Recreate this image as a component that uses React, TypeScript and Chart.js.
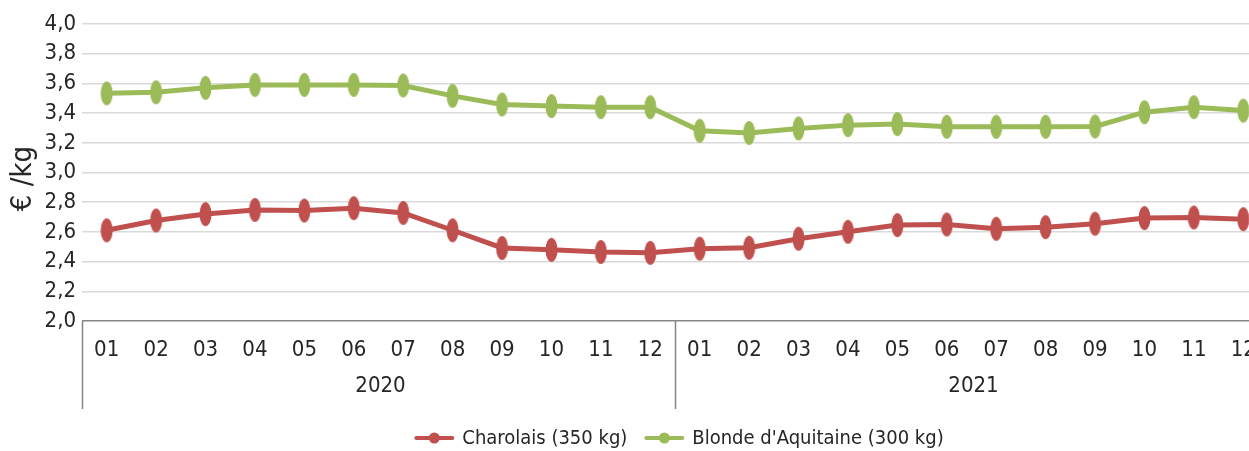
import React, { useEffect, useRef } from "react";
import { Chart, registerables } from "chart.js";

Chart.register(...registerables);

const months = ["01","02","03","04","05","06","07","08","09","10","11","12","01","02","03","04","05","06","07","08","09","10","11","12"];
const years = ["2020", "2021"];
const charolais = [2.611, 2.677, 2.72, 2.748, 2.744, 2.76, 2.728, 2.611, 2.492, 2.479, 2.465, 2.459, 2.487, 2.493, 2.554, 2.601, 2.646, 2.65, 2.621, 2.632, 2.655, 2.693, 2.697, 2.686];
const blonde = [3.533, 3.54, 3.57, 3.59, 3.59, 3.59, 3.586, 3.516, 3.458, 3.447, 3.44, 3.44, 3.281, 3.266, 3.297, 3.319, 3.326, 3.308, 3.308, 3.308, 3.31, 3.406, 3.44, 3.417];
const seriesNames = ["Charolais (350 kg)", "Blonde d'Aquitaine (300 kg)"];
const colors = ["#C0504D", "#9BBB59"];
const yTitle = "€ /kg";

const FONT = '"DejaVu Sans Condensed", "Liberation Sans Narrow", sans-serif';
const TEXT = "#262626";

function ellipseMarker(color: string) {
  const c = document.createElement("canvas");
  c.width = 13;
  c.height = 26;
  const ctx = c.getContext("2d")!;
  ctx.fillStyle = color;
  ctx.beginPath();
  ctx.ellipse(6.5, 13, 6, 12, 0, 0, Math.PI * 2);
  ctx.fill();
  return c;
}

const decorPlugin = {
  id: "decorPlugin",
  afterDraw(chart: any) {
    const { ctx, chartArea, scales } = chart;
    const x = scales.x;
    const step = x.getPixelForValue(1) - x.getPixelForValue(0);
    const bottom = chartArea.bottom + 88;
    ctx.save();
    // category group separators
    ctx.strokeStyle = "#868686";
    ctx.lineWidth = 1.5;
    [0, 12, 24].forEach((i) => {
      const px = Math.round(x.getPixelForValue(0) - step / 2 + i * step) + 0.5;
      ctx.beginPath();
      ctx.moveTo(px, chartArea.bottom);
      ctx.lineTo(px, bottom);
      ctx.stroke();
    });
    // year labels
    ctx.fillStyle = TEXT;
    ctx.font = `22px ${FONT}`;
    ctx.textAlign = "center";
    ctx.textBaseline = "middle";
    years.forEach((yr, k) => {
      const a = x.getPixelForValue(k * 12) - step / 2;
      const b = x.getPixelForValue(k * 12 + 11) + step / 2;
      ctx.fillText(yr, (a + b) / 2 + 2, chartArea.bottom + 65);
    });
    // y title
    ctx.save();
    ctx.translate(23, (chartArea.top + chartArea.bottom) / 2 + 6);
    ctx.rotate(-Math.PI / 2);
    ctx.font = `29px ${FONT}`;
    ctx.fillText(yTitle, 0, 0);
    ctx.restore();
    // legend
    ctx.font = `20px ${FONT}`;
    ctx.textAlign = "left";
    const symW = 40;
    const gap = 8;
    const itemGap = 17;
    const widths = seriesNames.map((n) => symW + gap + ctx.measureText(n).width);
    const total = widths.reduce((a, b) => a + b, 0) + itemGap * (widths.length - 1);
    const cx = (chartArea.left + chartArea.right) / 2 + 4;
    let lx = cx - total / 2;
    const ly = 438;
    seriesNames.forEach((n, i) => {
      ctx.strokeStyle = colors[i];
      ctx.fillStyle = colors[i];
      ctx.lineWidth = 4;
      ctx.lineCap = "round";
      ctx.beginPath();
      ctx.moveTo(lx + 2, ly);
      ctx.lineTo(lx + symW - 2, ly);
      ctx.stroke();
      ctx.beginPath();
      ctx.arc(lx + symW / 2, ly, 5.5, 0, Math.PI * 2);
      ctx.fill();
      ctx.fillStyle = TEXT;
      ctx.fillText(n, lx + symW + gap, ly + 1);
      lx += widths[i] + itemGap;
    });
    ctx.restore();
  },
};

export default function App() {
  const ref = useRef<HTMLCanvasElement>(null);
  useEffect(() => {
    const markers = colors.map(ellipseMarker);
    const chart = new Chart(ref.current!, {
      type: "line",
      data: {
        labels: months,
        datasets: [charolais, blonde].map((d, i) => ({
          label: seriesNames[i],
          data: d,
          borderColor: colors[i],
          backgroundColor: colors[i],
          borderWidth: 5,
          pointStyle: markers[i] as any,
          pointRadius: 6,
          tension: 0,
        })),
      },
      options: {
        responsive: false,
        animation: false,
        layout: { padding: { top: 24, left: 0, right: 0, bottom: 42 } },
        plugins: {
          tooltip: { enabled: false },
          legend: { display: false },
        },
        scales: {
          y: {
            min: 2,
            max: 4,
            afterFit: (s: any) => {
              s.width = 82;
            },
            border: { display: false },
            grid: {
              drawTicks: false,
              lineWidth: 1.5,
              color: (c: any) => (c.tick && c.tick.value === 2 ? "#868686" : "#D9D9D9"),
            },
            ticks: {
              stepSize: 0.2,
              padding: 6,
              color: TEXT,
              font: { family: FONT, size: 22 },
              callback: (v: any) => Number(v).toFixed(1).replace(".", ","),
            },
          },
          x: {
            offset: true,
            afterFit: (s: any) => {
              s.height = 88;
            },
            border: { display: false },
            grid: { display: false, drawTicks: false, offset: true },
            ticks: {
              padding: 16,
              maxRotation: 0,
              autoSkip: false,
              color: TEXT,
              font: { family: FONT, size: 22 },
            },
          },
        },
      },
      plugins: [decorPlugin],
    });
    return () => chart.destroy();
  }, []);
  return (
    <div style={{ position: "fixed", left: 0, top: 0, width: 1249, height: 451, overflow: "hidden", background: "#fff" }}>
      <canvas ref={ref} width={1279} height={451} style={{ display: "block" }} />
    </div>
  );
}
